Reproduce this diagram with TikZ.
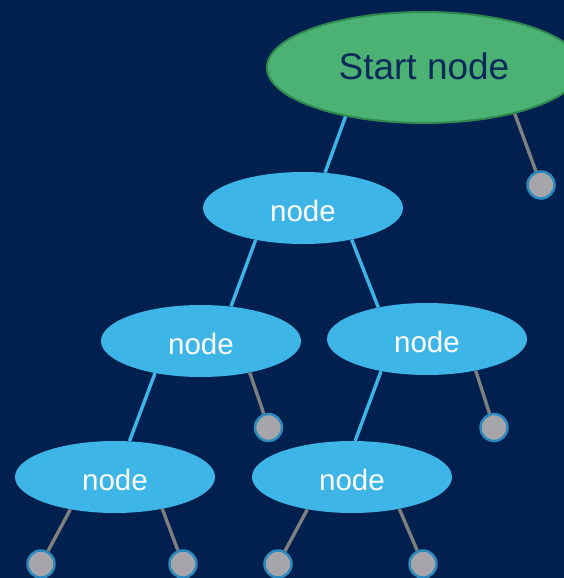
\documentclass[tikz,border=0pt]{standalone}
\usepackage{fontspec}
\setmainfont{Liberation Sans}
\usetikzlibrary{shapes.geometric}
\definecolor{navy}{HTML}{00204F}
\definecolor{skyblue}{HTML}{3DB5E6}
\definecolor{startgreen}{HTML}{4BB273}
\definecolor{startrim}{HTML}{2F8A50}
\definecolor{starttext}{HTML}{0B2A5A}
\definecolor{leafgray}{HTML}{A6A6AA}
\definecolor{leafrim}{HTML}{2C89BD}
\definecolor{stemgray}{HTML}{7F7F7F}
\begin{document}
\begin{tikzpicture}[x=1pt,y=-1pt,
  treenode/.style={ellipse, fill=skyblue, inner sep=0pt,
    minimum width=200pt, minimum height=72pt, text=white,
    font=\fontsize{29.5}{36}\selectfont, text height=26pt, text depth=0pt},
  startnode/.style={ellipse, fill=startgreen, draw=startrim, line width=2pt,
    inner sep=0pt, minimum width=314pt, minimum height=111pt, text=starttext,
    font=\fontsize{37}{44}\selectfont, text height=23.6pt, text depth=0pt},
  leaf/.style={circle, fill=leafgray, draw=leafrim, line width=2.5pt,
    inner sep=0pt, minimum size=27pt},
  branch/.style={draw=skyblue, line width=3.4pt},
  stem/.style={draw=stemgray, line width=3.4pt}]
\useasboundingbox[fill=navy] (0,0) rectangle (564,578);

% inner nodes
\node[startnode] (s) at (424,67.5) {Start node};
\node[treenode] (n1) at (303,208) {node};
\node[treenode] (n2) at (201,341) {node};
\node[treenode] (n3) at (427,339) {node};
\node[treenode] (n4) at (115,477) {node};
\node[treenode] (n5) at (352,477) {node};

% empty leaves
\node[leaf] (l0) at (541,185) {};
\node[leaf] (l1) at (268.5,427.5) {};
\node[leaf] (l2) at (494,427.5) {};
\node[leaf] (l3) at (41,564) {};
\node[leaf] (l4) at (183,564) {};
\node[leaf] (l5) at (278,564) {};
\node[leaf] (l6) at (423,564) {};

% branches between inner nodes
\draw[branch] (s.212.7) -- (n1.58.6);
\draw[branch] (n1.214) -- (n2.49);
\draw[branch] (n1.327) -- (n3.147);
\draw[branch] (n2.215) -- (n4.68);
\draw[branch] (n3.215) -- (n5.85);

% stems to empty leaves
\draw[stem] (s.333) -- (l0);
\draw[stem] (n2.327.5) -- (l1);
\draw[stem] (n3.327) -- (l2);
\draw[stem] (n4.216) -- (l3);
\draw[stem] (n4.326) -- (l4);
\draw[stem] (n5.216) -- (l5);
\draw[stem] (n5.326) -- (l6);
\end{tikzpicture}
\end{document}
